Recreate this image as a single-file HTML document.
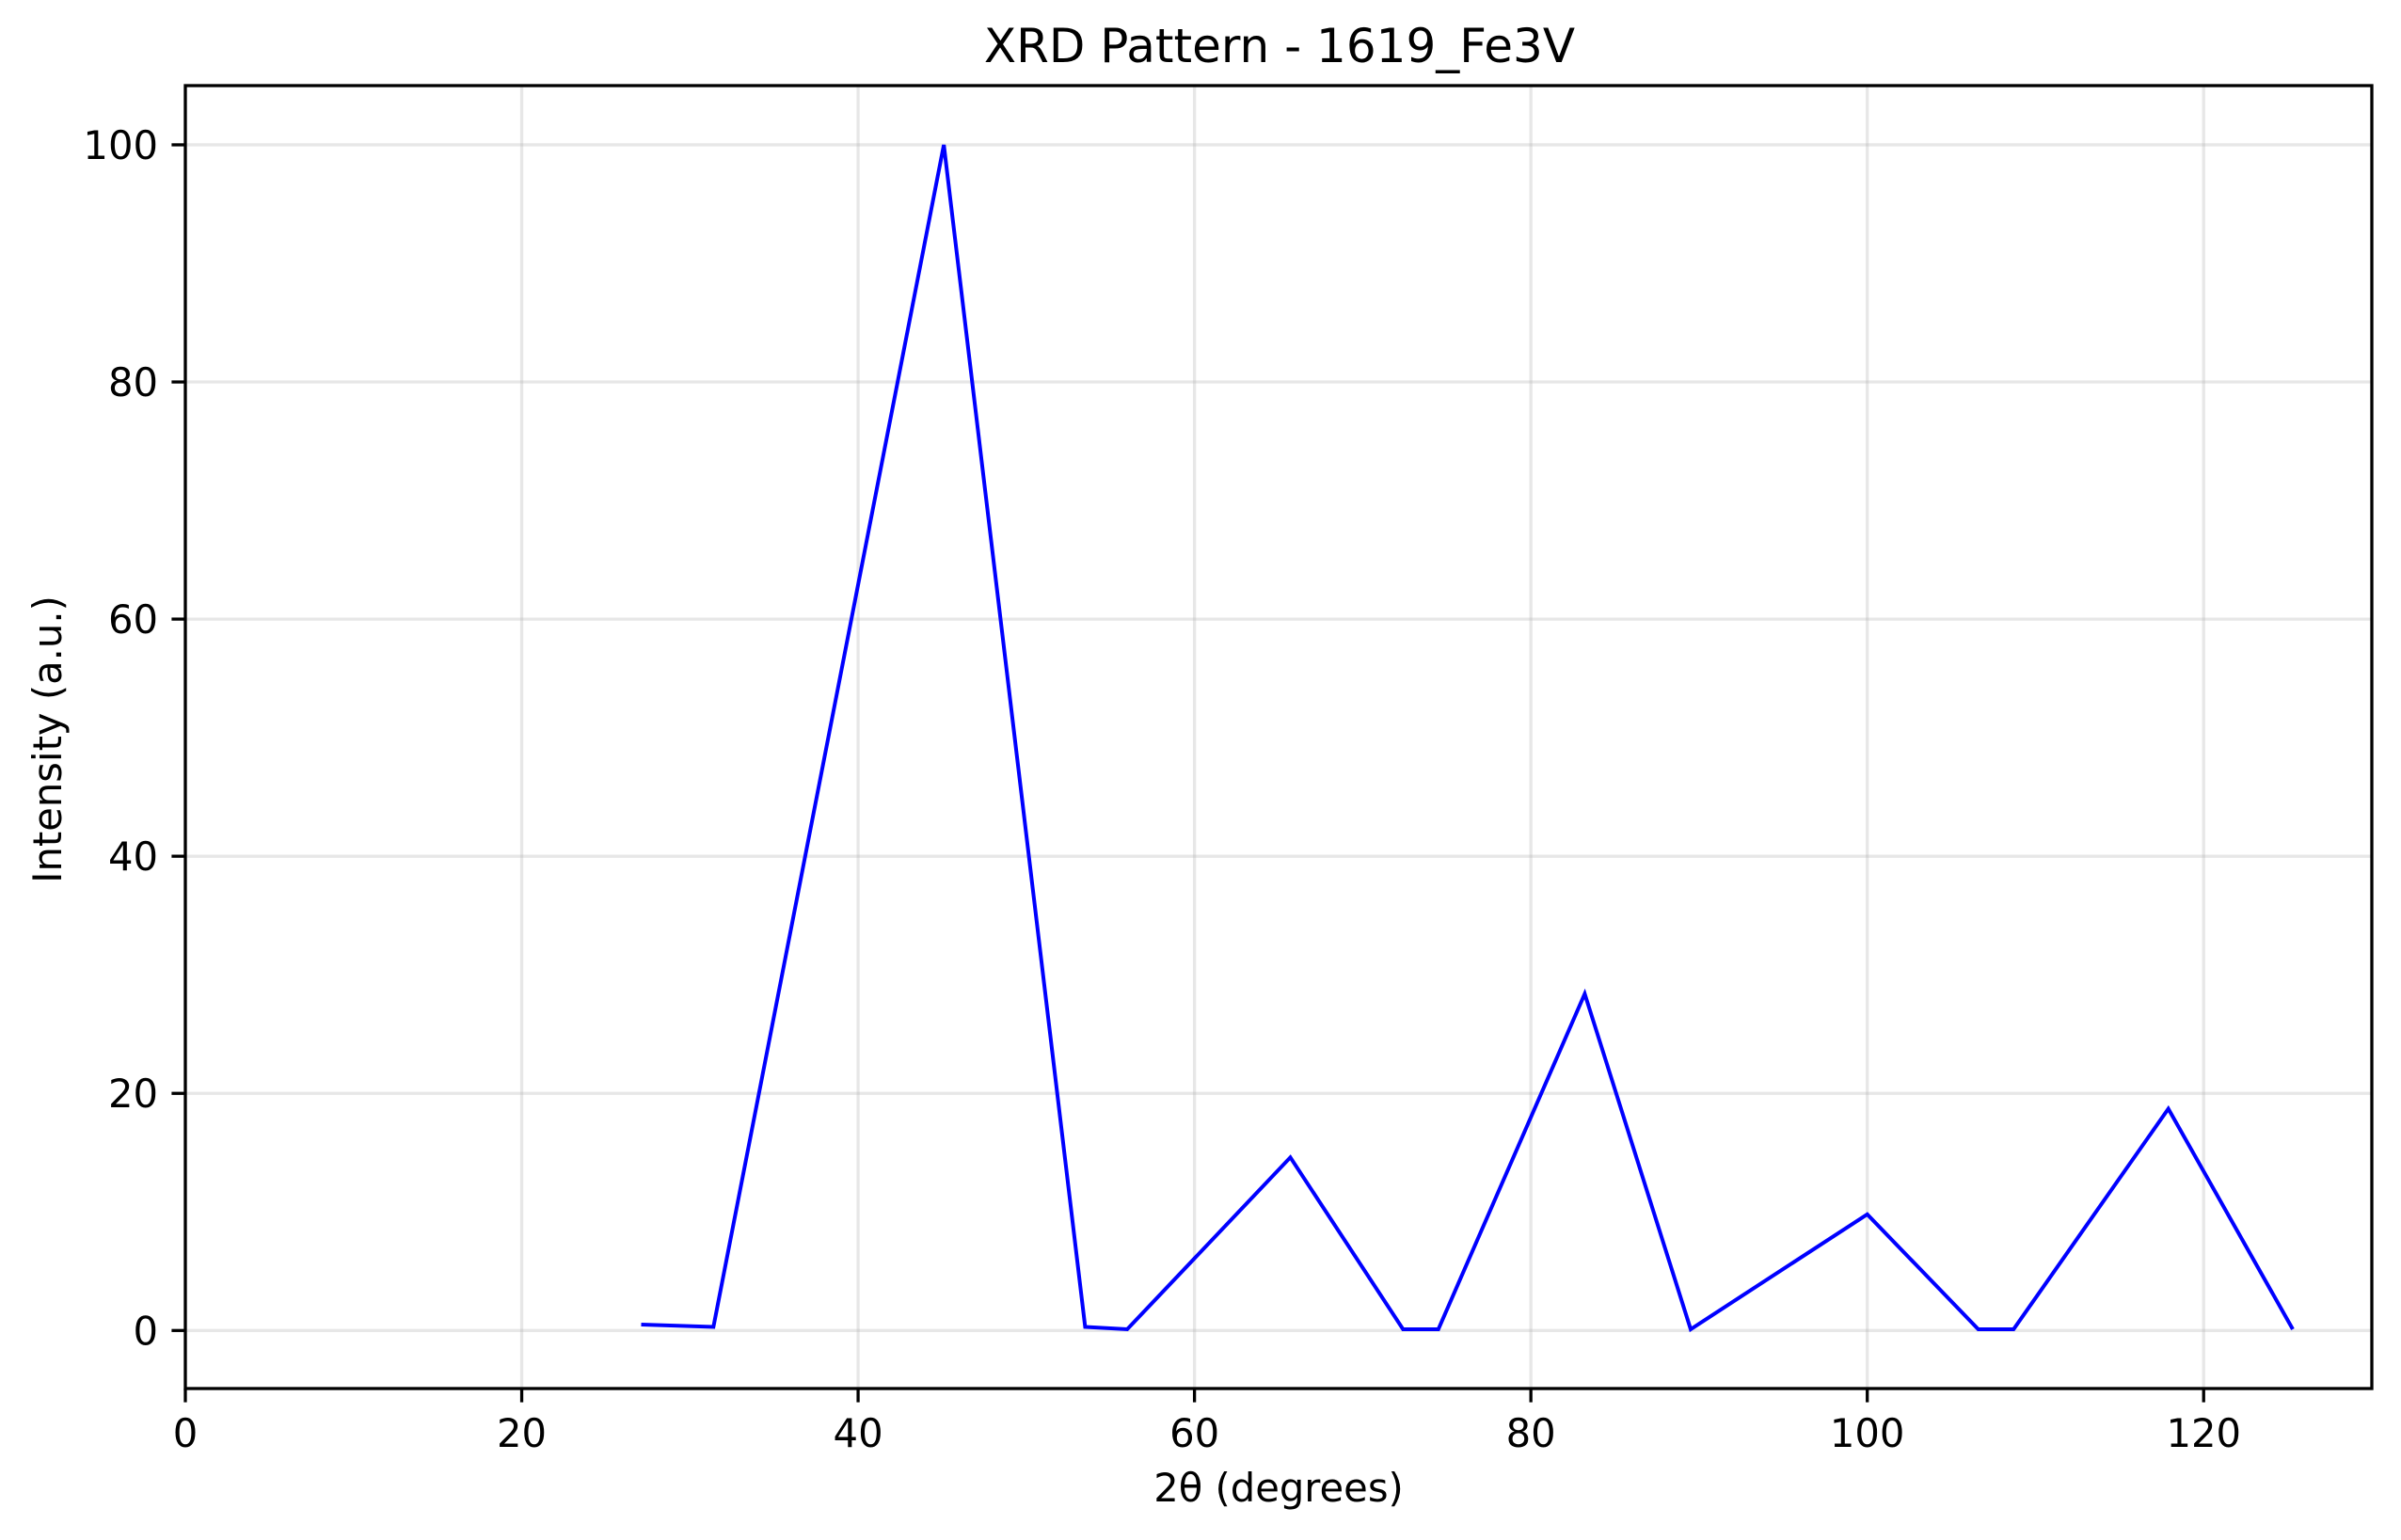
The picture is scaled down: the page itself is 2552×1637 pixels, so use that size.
<!DOCTYPE html>
<html><head><meta charset="utf-8"><style>
html,body{margin:0;padding:0;background:#fff;}
svg{display:block;font-family:"DejaVu Sans","Liberation Sans",sans-serif;}
</style></head><body>
<svg id="chart" width="2552" height="1637" viewBox="0 0 2552 1637" xmlns="http://www.w3.org/2000/svg">
<rect x="0" y="0" width="2552" height="1637" fill="#fff"/>
<g id="grid"></g>
<g id="ticks"></g>
<polyline id="series" fill="none" stroke="#0000ff" stroke-width="4" stroke-linejoin="miter"/>
<rect x="197" y="91" width="2324" height="1385" fill="none" stroke="#000" stroke-width="3.3"/>
<text x="1360" y="66" text-anchor="middle" font-size="50">XRD Pattern - 1619_Fe3V</text>
<text x="1359" y="1596" text-anchor="middle" font-size="41.7">2θ (degrees)</text>
<text transform="translate(65,786) rotate(-90)" text-anchor="middle" font-size="41.7">Intensity (a.u.)</text>
</svg>
<script>
const twoTheta = [27.1, 31.4, 45.1, 53.5, 56.0, 65.7, 72.4, 74.5, 83.2, 89.5, 100.0, 106.6, 108.7, 117.9, 125.3];
const intensity = [0.5, 0.3, 100, 0.3, 0.1, 14.6, 0.1, 0.1, 28.4, 0.1, 9.8, 0.1, 0.1, 18.7, 0.1];
const xTicks = [0, 20, 40, 60, 80, 100, 120];
const yTicks = [0, 20, 40, 60, 80, 100];
const L=197,R=2521,T=91,B=1476, X0=0,X1=130,Y0=-4.895,Y1=104.995;
const sx=v=>L+(v-X0)/(X1-X0)*(R-L);
const sy=v=>B-(v-Y0)/(Y1-Y0)*(B-T);
const NS="http://www.w3.org/2000/svg";
const grid=document.getElementById('grid'), ticks=document.getElementById('ticks');
function mk(tag,attrs,parent){const e=document.createElementNS(NS,tag);for(const k in attrs)e.setAttribute(k,attrs[k]);parent.appendChild(e);return e;}
xTicks.forEach(v=>{
  const x=sx(v);
  const g=mk('line',{x1:x,x2:x,y1:T,y2:B,stroke:'#b0b0b0','stroke-opacity':0.3,'stroke-width':3.3},grid);
  
  
  const t=mk('line',{x1:x,x2:x,y1:B,y2:B+14.6,stroke:'#000','stroke-width':3.3},ticks);
  
  
  const l=mk('text',{x:x,y:1538,'text-anchor':'middle','font-size':41.7},ticks);
  l.textContent=v;
  
  
});
yTicks.forEach(v=>{
  const y=sy(v);
  const g=mk('line',{x1:L,x2:R,y1:y,y2:y,stroke:'#b0b0b0','stroke-opacity':0.3,'stroke-width':3.3},grid);
  
  
  const t=mk('line',{x1:L-14.6,x2:L,y1:y,y2:y,stroke:'#000','stroke-width':3.3},ticks);
  
  
  const l=mk('text',{x:L-29,y:y+15,'text-anchor':'end','font-size':41.7},ticks);
  l.textContent=v;
  
  
});
document.getElementById('series').setAttribute('points',twoTheta.map((v,i)=>sx(v).toFixed(1)+','+sy(intensity[i]).toFixed(1)).join(' '));
</script>
</body></html>
